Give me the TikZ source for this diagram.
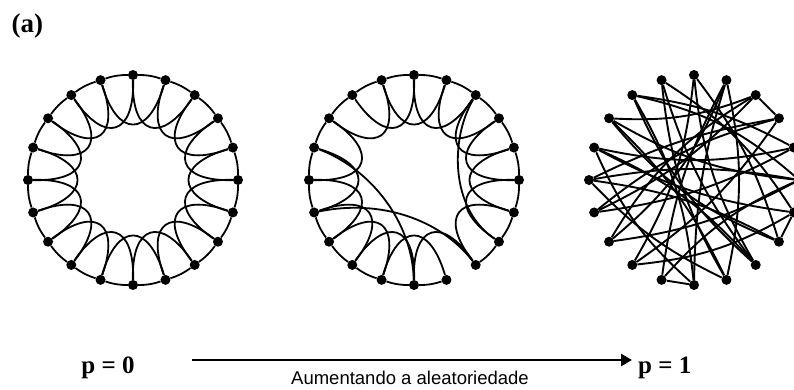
\documentclass[tikz,border=0pt]{standalone}
\usepackage{fontspec}
\setmainfont{Liberation Serif}
\setsansfont{Liberation Sans}
\usetikzlibrary{arrows.meta}

\begin{document}
\begin{tikzpicture}[x=1pt,y=1pt,
  dot/.style={circle,fill,inner sep=0pt,minimum size=10pt},
  link/.style={line width=1.8pt},
  rlink/.style={line width=1.9pt},
  big/.style={font=\bfseries\fontsize{25}{30}\selectfont}]
\useasboundingbox (0,0) rectangle (794,389);
\clip (0,0) rectangle (794,389);

% regular ring, p = 0
\begin{scope}[shift={(133,209)}]
\foreach \k in {0,...,19}
  \node[dot] (L\k) at ({90-18*\k}:105) {};
\foreach \k in {0,...,19}{
  \pgfmathtruncatemacro\j{mod(\k+1,20)}
  \pgfmathtruncatemacro\m{mod(\k+2,20)}
  \draw[link] (L\k) to[bend left=9] (L\j);
  \draw[link] (L\k) .. controls ({92-18*\k}:45) and ({52-18*\k}:45) .. (L\m);
}
\end{scope}

% a few links rewired
\begin{scope}[shift={(414,209)}]
\foreach \k in {0,...,19}
  \node[dot] (M\k) at ({90-18*\k}:105) {};
\foreach \k in {0,...,19}{
  \pgfmathtruncatemacro\j{mod(\k+1,20)}
  \pgfmathtruncatemacro\m{mod(\k+2,20)}
  \ifnum\k=8 \else \draw[link] (M\k) to[bend left=9] (M\j); \fi
  \ifnum\k=7 \else\ifnum\k=16 \else
    \draw[link] (M\k) .. controls ({92-18*\k}:45) and ({52-18*\k}:45) .. (M\m);
  \fi\fi
}
\draw[link] (M14) .. controls (-34,-19) and (26,-39) .. (M8);
\draw[link] (M16) .. controls (-45,12) and (-2,-40) .. (M10);
\draw[link] (M2) .. controls (36,41) and (36,-29) .. (M7);
\end{scope}

% random graph, p = 1
\begin{scope}[shift={(694,209)}]
\foreach \k in {0,...,19}
  \node[dot] (R\k) at ({90-18*\k}:105) {};
\foreach \a/\b/\bb in {0/12/12, 0/8/-12, 0/7/10, 1/13/14, 1/11/-10, 1/9/12,
    1/10/-8, 2/3/0, 2/13/-14, 2/14/10, 2/17/12, 3/14/-12, 3/12/10,
    3/15/-8, 4/16/12, 4/18/-10, 4/14/10, 5/15/-10, 5/17/12, 5/18/-14,
    5/13/10, 5/11/-12, 6/7/0, 6/16/10, 6/19/-12, 6/12/12, 7/15/-10,
    7/17/14, 8/16/-12, 8/19/10, 8/18/12, 9/17/-10, 9/19/12, 9/15/10,
    10/11/0, 10/18/-12, 10/16/12}
  \draw[rlink] (R\a) to[bend left=\bb] (R\b);
\end{scope}

\node[big, anchor=base west] (tag) at (8,356) {\fontsize{27}{30}\selectfont(a)};
\node[big, anchor=base] (p0) at (108,16) {p = 0};
\node[big, anchor=base west, inner sep=0pt] (p1) at (638,16) {p = 1};
\coordinate (a0) at (192,29);
\draw[line width=2.8pt, -{Triangle[length=11pt,width=12pt]}, shorten >=6pt]
  (a0) -- (a0 -| p1.west);
\node[font=\sffamily\fontsize{18.5}{20}\selectfont, anchor=base] (rnd) at (410,5)
  {Aumentando a aleatoriedade};
\end{tikzpicture}
\end{document}
